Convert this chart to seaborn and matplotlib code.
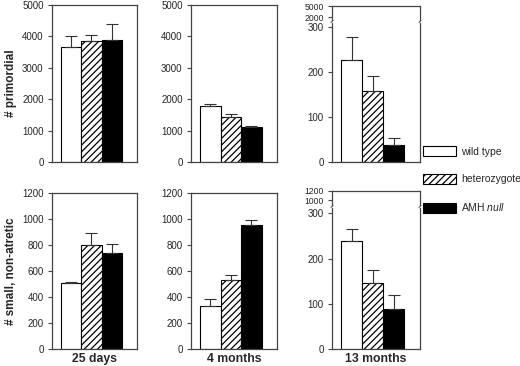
import numpy as np
import pandas as pd
import seaborn as sns
import matplotlib.pyplot as plt
from matplotlib.patches import Patch

# genotypes and ages
genotypes = ['wild type', 'heterozygote', 'AMH null']
ages = ['25 days', '4 months', '13 months']

# primordial follicle counts (mean, upper error) per age
primordial_mean = [[3670, 3840, 3870], [1770, 1440, 1120], [226, 158, 37]]
primordial_err = [[340, 210, 510], [80, 80, 30], [52, 34, 16]]

# small, non-atretic follicle counts
small_mean = [[505, 800, 735], [334, 532, 951], [240, 145, 88]]
small_err = [[7, 90, 70], [52, 41, 39], [26, 29, 32]]

rows = [('# primordial', primordial_mean, primordial_err),
        ('# small, non-atretic', small_mean, small_err)]

sns.set_style("white")
plt.rcParams['font.family'] = ['Liberation Sans', 'DejaVu Sans']
plt.rcParams['mathtext.fontset'] = 'custom'
plt.rcParams['mathtext.it'] = 'Liberation Sans:italic'
plt.rcParams['mathtext.rm'] = 'Liberation Sans'
plt.rcParams['hatch.linewidth'] = 0.9

palette = {'wild type': 'white', 'heterozygote': 'white', 'AMH null': 'black'}
frame_col = '#444444'

fig = plt.figure(figsize=(5.2, 3.66), dpi=100)


def box(x0, y0, x1, y1):
    return [x0 / 520, 1 - y1 / 366, (x1 - x0) / 520, (y1 - y0) / 366]


cols_px = [(52, 137), (191, 277), (332, 420)]
rows_px = [(5, 162), (193, 349)]
# broken axis: (top part y-range, main part y-range, top ylim, main ylim, top ticks)
broken = [((6, 20.5), (22.5, 162), (1180, 5000), (0, 310), [2000, 5000]),
          ((191, 205), (207.5, 349), (889, 1200), (0, 313), [1000, 1200])]
full_ylim = [(0, 5000), (0, 1200)]
full_ticks = [np.arange(0, 5001, 1000), np.arange(0, 1201, 200)]


def style_axis(ax, size=7):
    for s in ax.spines.values():
        s.set_color(frame_col)
        s.set_linewidth(0.9)
    ax.tick_params(axis='y', direction='out', length=3, width=0.8,
                   color=frame_col, labelsize=size, pad=3, left=True)
    ax.tick_params(axis='x', bottom=False, labelbottom=False)
    ax.set_xlim(-0.52, 0.6)
    ax.set_xlabel('')
    ax.set_ylabel('')


def draw_bars(ax, means, errs):
    df = pd.DataFrame({'age': ['a'] * 3, 'genotype': genotypes, 'count': means})
    sns.barplot(data=df, x='age', y='count', hue='genotype', hue_order=genotypes,
                palette=palette, edgecolor='black', linewidth=0.8, width=0.8,
                errorbar=None, legend=False, ax=ax)
    bars = ax.patches[:3]
    bars[1].set_hatch('/////')
    xs = [b.get_x() + b.get_width() / 2 for b in bars]
    ax.errorbar(xs, means, yerr=[np.zeros(3), errs], fmt='none', ecolor='#333333',
                elinewidth=0.8, capsize=4, capthick=0.8, zorder=1)


for r, (ylab, mean, err) in enumerate(rows):
    ytop, ybot = rows_px[r]
    for c in range(3):
        x0, x1 = cols_px[c]
        if c < 2:
            ax = fig.add_axes(box(x0, ytop, x1, ybot))
            draw_bars(ax, mean[c], err[c])
            style_axis(ax)
            ax.set_ylim(*full_ylim[r])
            ax.set_yticks(full_ticks[r])
            if c == 0:
                ax.set_ylabel(ylab, fontsize=8.5, fontweight='bold', labelpad=4)
        else:
            (ta, tb), (ma, mb), tlim, mlim, tticks = broken[r]
            axt = fig.add_axes(box(x0, ta, x1, tb))
            style_axis(axt, size=6.2)
            axt.set_ylim(*tlim)
            axt.set_yticks(tticks)
            axt.spines['bottom'].set_visible(False)
            ax = fig.add_axes(box(x0, ma, x1, mb))
            draw_bars(ax, mean[c], err[c])
            style_axis(ax)
            ax.set_ylim(*mlim)
            ax.set_yticks([0, 100, 200, 300])
            ax.spines['top'].set_visible(False)
            for xx in (0, 1):
                ax.plot([xx - 0.012, xx + 0.012], [1.0, 1.015], transform=ax.transAxes,
                        color=frame_col, lw=0.7, clip_on=False)
        if r == 1:
            ax.set_xlabel(ages[c], fontsize=8.8, fontweight='bold', labelpad=3)

handles = [Patch(facecolor='white', edgecolor='black', linewidth=0.8),
           Patch(facecolor='white', edgecolor='black', linewidth=0.8, hatch='/////'),
           Patch(facecolor='black', edgecolor='black', linewidth=0.8)]
labels = ['wild type', 'heterozygote', 'AMH $\\mathit{null}$']
fig.legend(handles, labels, loc='upper left', bbox_to_anchor=(423 / 520, 1 - 146 / 366),
           frameon=False, fontsize=7.5, handlelength=3.2, handleheight=1.1,
           labelspacing=1.65, handletextpad=0.45, borderpad=0, borderaxespad=0)

plt.savefig('out.png', dpi=100, facecolor='white')
plt.close()
